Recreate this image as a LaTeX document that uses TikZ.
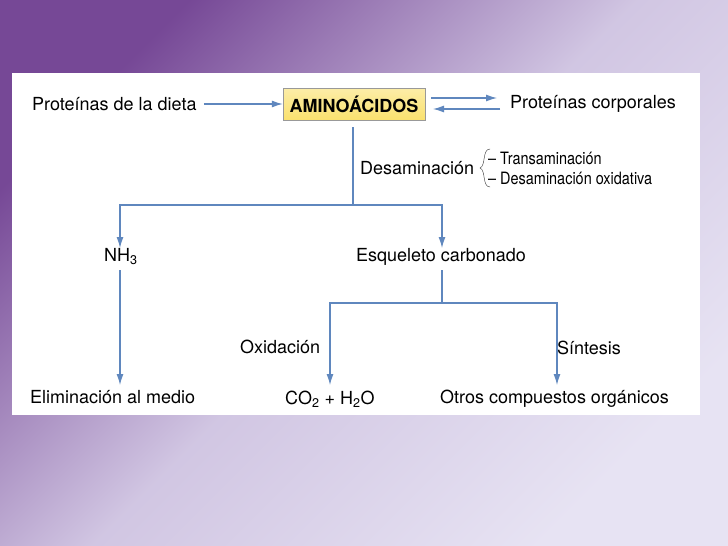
\documentclass[tikz,border=0pt]{standalone}
\usepackage{fontspec}
\setmainfont{TeX Gyre Heros}
\usetikzlibrary{arrows.meta}
\definecolor{flecha}{RGB}{95,135,190}
\definecolor{bgpurple}{RGB}{118,72,150}
\definecolor{bglight}{RGB}{225,220,240}
\definecolor{amarillo}{RGB}{250,225,110}
\begin{document}
\begin{tikzpicture}[x=1pt,y=-1pt,
  txt/.style = {font=\fontsize{18}{20}\selectfont, inner sep=0pt},
  small/.style = {font=\fontsize{17}{19}\selectfont\addfontfeatures{FakeStretch=0.85}, inner sep=0pt},
  arr/.style = {-{Latex[length=11pt,width=7pt]}, flecha, line width=1.2pt},
  lin/.style = {flecha, line width=1.2pt}]
\shade[left color=bgpurple, right color=bglight!80!white, middle color=bglight!85!bgpurple, shading angle=45] (0,0) rectangle (728,546);
\useasboundingbox (0,0) rectangle (728,546);
\fill[white] (12,73) rectangle (700,415);
% top row
\node[txt, anchor=west] (dieta) at (32,104) {Proteínas de la dieta};
\node[txt, font=\fontsize{18}{20}\selectfont\bfseries, draw=black!40, top color=amarillo!60, bottom color=amarillo,
  minimum width=142pt, minimum height=32pt] (amino) at (354,104) {AMINOÁCIDOS};
\node[txt, anchor=west] (corp) at (510,104) {Proteínas corporales};
\draw[arr] (dieta.east) ++(7,0) -- (amino.west);
\draw[arr] (431,98) -- (497,98);
\draw[arr] (500,109) -- (433,109);
% desaminacion
\coordinate (split) at (353,205);
\draw[lin] (353,127) -- (split);
\node[txt, anchor=west] (desam) at (360,168) {Desaminación};
\node[small, anchor=west] (trans) at (488,158) {– Transaminación};
\node[small, anchor=west] (oxid) at (488,178) {– Desaminación oxidativa};
\draw[black!80] (490,149) .. controls (482,149) and (486,166) .. (480,168) .. controls (486,170) and (482,187) .. (490,187);
\node[txt, anchor=west] (nh3) at (104,257) {NH\textsubscript{3}};
\node[txt] (esq) at (441,257) {Esqueleto carbonado};
\draw[arr] (split) -| (120,248);
\draw[arr] (split) -| (442,248);
% esqueleto
\coordinate (split2) at (442,303);
\draw[lin] (442,270) -- (split2);
\draw[arr] (split2) -| (330,385);
\draw[arr] (split2) -| (557,385);
\node[txt, anchor=west] (oxida) at (240,347) {Oxidación};
\node[txt, anchor=west] (sint) at (557,348) {Síntesis};
\draw[arr] (120,270) -- (120,385);
% bottom row
\node[txt, anchor=west] (elim) at (30,397) {Eliminación al medio};
\node[txt, anchor=west] (co2) at (285,399) {CO\textsubscript{2} + H\textsubscript{2}O};
\node[txt, anchor=west] (otros) at (440,399) {Otros compuestos orgánicos};
\end{tikzpicture}
\end{document}
